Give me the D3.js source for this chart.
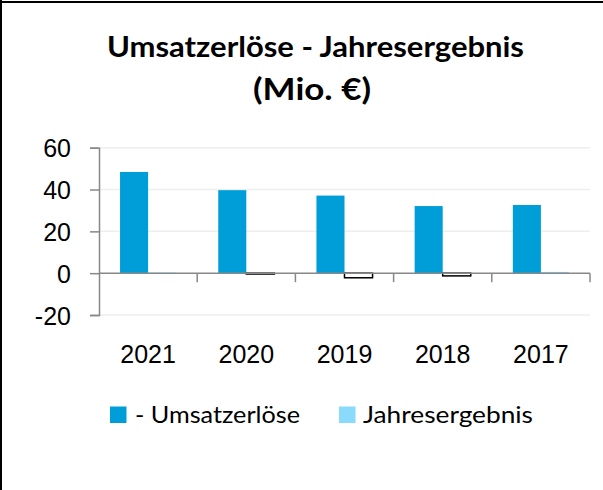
<!DOCTYPE html>
<html><head><meta charset="utf-8">
<script src="https://cdn.jsdelivr.net/npm/d3@7/dist/d3.min.js"></script>
<style>body{margin:0;background:#fff}svg{display:block}</style>
</head><body>
<script>
const years = ["2021","2020","2019","2018","2017"];
const umsatz = [48.4, 39.7, 37.1, 32.1, 32.6];
const ergebnis = [0.3, -0.4, -2.2, -1.3, 0.6];
const yTicks = [-20, 0, 20, 40, 60];
const seriesNames = ["- Umsatzerlöse", "Jahresergebnis"];
const colors = ["#009ED8", "#8ADAFC"];

const W = 603, H = 490;
const svg = d3.select("body").append("svg").attr("width", W).attr("height", H);

// border (top and left)
svg.append("line").attr("x1",0).attr("x2",W).attr("y1",2).attr("y2",2).attr("stroke","#000").attr("stroke-width",2);
svg.append("line").attr("x1",1).attr("x2",1).attr("y1",0).attr("y2",H).attr("stroke","#000").attr("stroke-width",2);

// title
const title = svg.append("text").attr("text-anchor","middle")
  .attr("font-family","Lato, 'Noto Sans', sans-serif").attr("font-weight","bold").attr("font-size",29).attr("fill","#000");
title.append("tspan").attr("x",315.5).attr("y",57).attr("textLength",417).attr("lengthAdjust","spacingAndGlyphs").text("Umsatzerlöse - Jahresergebnis");
title.append("tspan").attr("x",312).attr("y",100).attr("font-size",30).attr("textLength",118).attr("lengthAdjust","spacingAndGlyphs").text("(Mio. €)");

const x0 = d3.scaleBand().domain(years).range([99, 590]).paddingInner(0).paddingOuter(0);
const y = d3.scaleLinear().domain([-20, 60]).range([315, 147.7]);
const bw = x0.bandwidth() / 3.5;

// gridlines
svg.append("g").selectAll("line").data(yTicks.filter(d => d !== 0)).join("line")
  .attr("x1", 99).attr("x2", 590).attr("y1", d => y(d)).attr("y2", d => y(d))
  .attr("stroke", "#eeeeee").attr("stroke-width", 1.5);

// y axis
const yAxis = svg.append("g").attr("transform","translate(99,0)")
  .call(d3.axisLeft(y).tickValues(yTicks).tickSize(9).tickPadding(19).tickFormat(d => String(d)));
yAxis.select(".domain").attr("stroke","#888").attr("stroke-width",1.5);
yAxis.selectAll(".tick line").attr("stroke","#888").attr("stroke-width",1.5);
yAxis.selectAll(".tick text").attr("font-family","'Liberation Sans', Arial, sans-serif").attr("font-size",25).attr("fill","#000").attr("dy","0.36em");

// bars
const g = svg.append("g");
g.selectAll("rect.u").data(years).join("rect").attr("class","u")
  .attr("x", (d) => x0(d) + bw*0.75).attr("width", bw)
  .attr("y", (d,i) => y(umsatz[i])).attr("height", (d,i) => y(0) - y(umsatz[i]))
  .attr("fill", colors[0]);
g.selectAll("rect.e").data(years).join("rect").attr("class","e")
  .attr("x", (d) => x0(d) + bw*1.75).attr("width", bw)
  .attr("y", (d,i) => y(Math.max(0, ergebnis[i])))
  .attr("height", (d,i) => Math.abs(y(0) - y(ergebnis[i])))
  .attr("fill", (d,i) => ergebnis[i] < 0 ? "#fff" : colors[1])
  .attr("stroke", (d,i) => ergebnis[i] < 0 ? "#000" : "none")
  .attr("stroke-width", 1.5);

// x axis
const xAxis = svg.append("g").attr("transform",`translate(0,${y(0)})`)
  .call(d3.axisBottom(x0).tickSize(0).tickPadding(0));
xAxis.select(".domain").attr("stroke","#888").attr("stroke-width",1.5).attr("d", `M99,0H590`);
xAxis.selectAll(".tick line").remove();
xAxis.selectAll(".tick text").attr("font-family","'Liberation Sans', Arial, sans-serif").attr("font-size",25).attr("fill","#000")
  .attr("y", 90).attr("dy", 0);
// category separator ticks
svg.append("g").selectAll("line").data(years.slice(1).concat(["end"])).join("line")
  .attr("x1", d => d === "end" ? 590 : x0(d))
  .attr("x2", d => d === "end" ? 590 : x0(d))
  .attr("y1", y(0)).attr("y2", y(0) + 9)
  .attr("stroke","#888").attr("stroke-width",1.5);

// legend
const leg = svg.append("g").attr("font-family","Lato, 'Noto Sans', sans-serif").attr("font-size",24).attr("fill","#000");
const legX = [110, 339], legTxtX = [135, 363], legLen = [165, 170];
seriesNames.forEach((n, i) => {
  leg.append("rect").attr("x", legX[i]).attr("y", 406.5).attr("width", 16.5).attr("height", 16.5).attr("fill", colors[i]);
  leg.append("text").attr("x", legTxtX[i]).attr("y", 423).attr("textLength", legLen[i]).attr("lengthAdjust","spacingAndGlyphs").text(n);
});
</script>
</body></html>
